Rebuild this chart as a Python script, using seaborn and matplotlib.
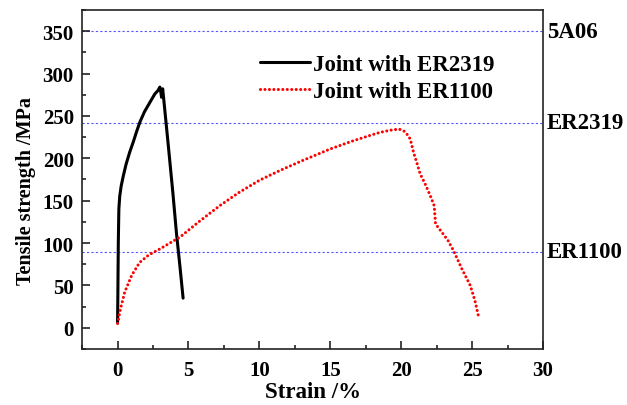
'''
python plot.py
'''
import seaborn as sns
import matplotlib
import matplotlib.pyplot as plt
from matplotlib.ticker import MultipleLocator
import pandas as pd


save_name = 'out'

# joint with ER2319 (black, solid)
strain_2319 = [0.0, 0.02, 0.05, 0.09, 0.15, 0.25, 0.4, 0.6, 0.85, 1.1, 1.35, 1.58, 1.9, 2.28,
               2.63, 2.85, 2.98, 3.05, 3.1, 3.18, 3.3, 3.6, 3.9, 4.15, 4.4, 4.62]
stress_2319 = [7, 40, 100, 140, 155, 167, 179, 193, 207, 219, 232, 243, 255, 266,
               276, 280, 284, 278, 272, 282, 262, 211, 159, 112, 72, 35]

# joint with ER1100 (red, dotted)
strain_1100 = [0.0, 0.2, 0.5, 1.0, 1.55, 2.2, 2.98, 4.4, 5.8, 7.2, 8.5, 10.0, 11.5, 13.0,
               15.0, 16.5, 18.0, 18.5, 19.2, 19.84, 20.2, 20.4, 20.64, 20.87, 21.1,
               21.34, 21.69, 22.05, 22.33, 22.42, 22.87, 23.3, 23.69, 24.28, 24.87,
               25.2, 25.44]
stress_1100 = [5, 22, 42, 62, 77, 86, 93, 107, 126, 144, 159, 174, 186, 197,
               211, 220, 228, 230.5, 233, 234.5, 232, 228.6, 222.7, 207, 195,
               181.5, 169.7, 155.9, 144, 122.5, 112.7, 103, 91, 69.5, 50,
               32, 14.5]

series_names = ['Joint with ER2319', 'Joint with ER1100']

# reference strengths
ref_labels = ['5A06', 'ER2319', 'ER1100']
ref_values = [350, 242, 90]

df = pd.DataFrame({
    'Strain': strain_2319 + strain_1100,
    'Stress': stress_2319 + stress_1100,
    'ID': [series_names[0]] * len(strain_2319) + [series_names[1]] * len(strain_1100),
})

sns.set_style('ticks')
plt.rcParams['font.family'] = ['Liberation Serif', 'DejaVu Serif']
plt.rcParams['font.weight'] = 'bold'
plt.rcParams['axes.labelweight'] = 'bold'
# pure black text instead of seaborn's dark grey
for key in ['text.color', 'axes.labelcolor', 'xtick.color', 'ytick.color']:
    plt.rcParams[key] = 'black'

fig, ax = plt.subplots(figsize=(6.27, 4.06), dpi=100)
fig.subplots_adjust(left=0.131, right=0.866, top=0.973, bottom=0.138)

palette = {series_names[0]: 'black', series_names[1]: 'red'}
ax = sns.lineplot(
    df, x='Strain', y='Stress', hue='ID', style='ID',
    palette=palette, sort=False, estimator=None,
    dashes={series_names[0]: '', series_names[1]: (0.01, 1.45)},
    linewidth=2.2, ax=ax
)
for line in ax.get_lines():
    line.set_dash_capstyle('round')

for lab, val in zip(ref_labels, ref_values):
    ax.axhline(val, color='#5555ff', lw=0.8, ls=(0, (2, 2)), zorder=0)
    ax.text(1.008, val, lab, transform=ax.get_yaxis_transform(),
            ha='left', va='center', fontsize=16.5, fontweight='bold')

ax.set_xlim(-2.5, 30)
ax.set_ylim(-25, 375)
ax.xaxis.set_major_locator(MultipleLocator(5))
ax.xaxis.set_minor_locator(MultipleLocator(2.5))
ax.yaxis.set_major_locator(MultipleLocator(50))
ax.yaxis.set_minor_locator(MultipleLocator(25))
ax.tick_params(which='both', direction='in', labelsize=15, width=1.2, color='#222222')
ax.tick_params(which='major', length=6)
ax.tick_params(which='minor', length=3)
ax.tick_params(axis='x', pad=8)
ax.tick_params(axis='y', pad=6)
for tick in ax.get_xticklabels() + ax.get_yticklabels():
    tick.set_fontweight('bold')
for sp in ax.spines.values():
    sp.set_linewidth(1.2)
    sp.set_color('#222222')

ax.set_xlabel('Strain /%', fontsize=16.5, fontweight='bold', labelpad=1)
ax.set_ylabel('Tensile strength /MPa', fontsize=14.5, fontweight='bold')
ax.yaxis.set_label_coords(-0.10, 0.47)

legend = ax.legend(loc='upper left', bbox_to_anchor=(260 / 627, 1 - 55 / 406),
                   bbox_transform=fig.transFigure, frameon=False, fontsize=16.5,
                   handlelength=2.2, handletextpad=0.1, labelspacing=0.25,
                   borderpad=0, borderaxespad=0)
legend.set_title(None)
for t in legend.get_texts():
    t.set_fontweight('bold')

fig.savefig(f'{save_name}.png', dpi=100)
